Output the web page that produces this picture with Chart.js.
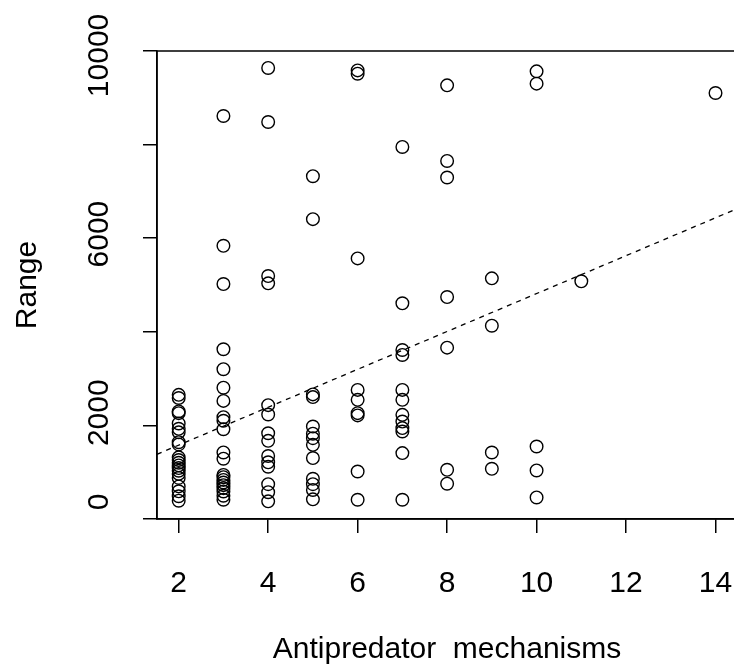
<!DOCTYPE html>
<html>
<head>
<meta charset="utf-8">
<script src="https://cdn.jsdelivr.net/npm/chart.js@4/dist/chart.umd.min.js"></script>
<style>
  html,body{margin:0;padding:0;background:#fff;overflow:hidden;}
  #wrap{width:740px;height:668px;}
</style>
</head>
<body>
<div id="wrap"><canvas id="myChart" width="740" height="668"></canvas></div>
<script>
// number of antipredator mechanisms per species
const mechanisms = [
    2,2,2,2,2,2,2,2,2,2,2,2,2,2,2,2,2,2,2,2,2,
    3,3,3,3,3,3,3,3,3,3,3,3,3,3,3,3,3,3,3,3,3,
    4,4,4,4,4,4,4,4,4,4,4,4,4,4,
    5,5,5,5,5,5,5,5,5,5,5,5,5,
    6,6,6,6,6,6,6,6,6,
    7,7,7,7,7,7,7,7,7,7,7,7,
    8,8,8,8,8,8,8,
    9,9,9,9,
    10,10,10,10,10,
    11,
    14
];
// geographic range
const ranges = [
    2400,2330,2030,1990,1760,1640,1560,1340,1290,1000,940,880,820,760,700,630,540,350,240,130,30,
    8645,5738,4881,3421,2974,2560,2265,1900,1820,1630,1110,970,607,556,496,437,378,311,237,141,52,
    9720,8510,5060,4897,2170,1960,1540,1370,1030,890,790,400,220,15,
    7296,6335,2410,2350,1690,1530,1430,1280,985,520,400,270,60,
    9666,9592,5456,2511,2288,1990,1940,684,51,
    7951,4450,3405,3294,2511,2288,1952,1802,1655,1579,1096,51,
    9331,7638,7267,4590,3457,722,410,
    5009,3949,1109,744,
    9644,9369,1243,707,103,
    4943,
    9159
];
// fitted line, end points
const fitX = [1.515, 14.48];
const fitY = [1069, 6568];

const xTicks = [2,4,6,8,10,12,14];
const yTickValues = [0,2000,6000,10000];
const yTickLabels = ['0','2000','6000','10000'];

const fuente = "'Liberation Sans', Arial, sans-serif";

const puntos = mechanisms.map((m,i) => ({x:m, y:ranges[i]}));
const linea = fitX.map((v,i) => ({x:v, y:fitY[i]}));

// caja y etiquetas giradas del eje y (estilo R)
const cajaR = {
    id:'cajaR',
    afterDraw(chart){
        const ctx = chart.ctx;
        const a = chart.chartArea;
        const y = chart.scales.y;
        ctx.save();
        ctx.strokeStyle = '#000';
        ctx.lineWidth = 1.5;
        ctx.strokeRect(a.left, a.top, a.right - a.left, a.bottom - a.top);
        ctx.fillStyle = '#000';
        ctx.font = '30px ' + fuente;
        ctx.textAlign = 'center';
        ctx.textBaseline = 'middle';
        for(let i=0;i<yTickValues.length;i++){
            const py = y.getPixelForValue(yTickValues[i]);
            ctx.save();
            ctx.translate(100, py);
            ctx.rotate(-Math.PI/2);
            ctx.fillText(yTickLabels[i], 0, 0);
            ctx.restore();
        }
        ctx.restore();
    }
};

const config = {
    type:'scatter',
    data:{
        datasets:[{
            label:'Range',
            data:puntos,
            pointStyle:'circle',
            pointRadius:6.3,
            pointHoverRadius:6.3,
            pointBorderWidth:1.4,
            borderColor:'#000',
            backgroundColor:'rgba(0,0,0,0)'
        },{
            type:'line',
            label:'fit',
            data:linea,
            borderColor:'#000',
            borderWidth:1.3,
            borderDash:[5,5],
            pointRadius:0,
            fill:false
        }]
    },
    options:{
        responsive:false,
        animation:false,
        devicePixelRatio:1,
        layout:{autoPadding:false,padding:{top:51,right:3,left:0,bottom:0}},
        plugins:{legend:{display:false},tooltip:{enabled:false}},
        scales:{
            x:{
                type:'linear',
                min:1.515,
                max:14.48,
                afterFit(scale){
                    scale.height = 149;
                    scale.paddingLeft = 0;
                    scale.paddingRight = 0;
                },
                grid:{drawOnChartArea:false,drawTicks:true,tickLength:14,color:'#000',lineWidth:1.5},
                border:{display:true,color:'#000',width:1.5},
                ticks:{
                    stepSize:2,
                    includeBounds:false,
                    autoSkip:false,
                    maxRotation:0,
                    padding:33,
                    color:'#000',
                    font:{family:fuente,size:30},
                    callback:(v) => xTicks.includes(v) ? String(v) : ''
                },
                title:{display:true,text:'Antipredator  mechanisms',color:'#000',font:{family:fuente,size:30},padding:{top:0,bottom:0}}
            },
            y:{
                type:'linear',
                min:-380,
                max:10100,
                afterFit(scale){
                    scale.width = 157;
                    scale.paddingTop = 0;
                    scale.paddingBottom = 0;
                },
                grid:{drawOnChartArea:false,drawTicks:true,tickLength:14,color:'#000',lineWidth:1.5},
                border:{display:true,color:'#000',width:1.5},
                ticks:{stepSize:2000,includeBounds:false,display:false},
                title:{display:true,text:'Range',color:'#000',font:{family:fuente,size:30},padding:{top:10,bottom:0}}
            }
        }
    },
    plugins:[cajaR]
};

const ctx = document.getElementById('myChart');
const myChart = new Chart(ctx, config);
</script>
</body>
</html>
